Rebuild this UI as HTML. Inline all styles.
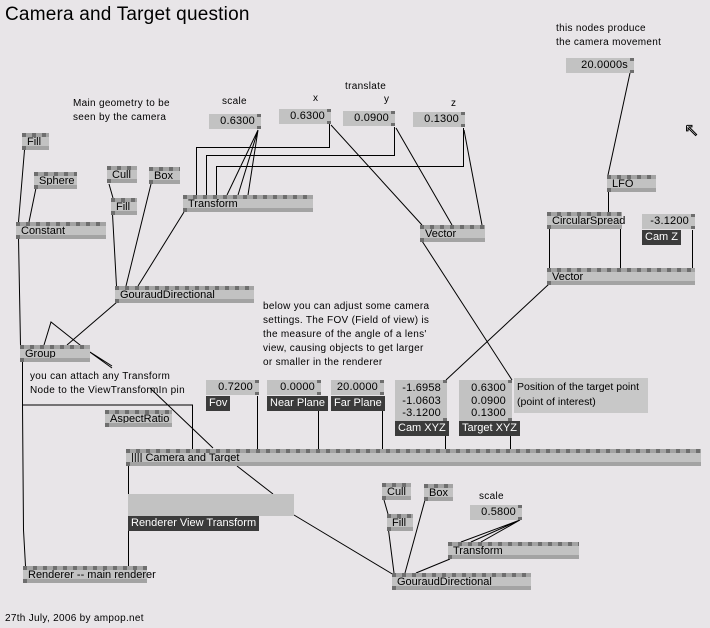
<!DOCTYPE html>
<html><head><meta charset="utf-8">
<style>
body{margin:0;width:710px;height:628px;background:#e8e5e8;position:relative;overflow:hidden;font-family:"Liberation Sans",sans-serif;font-size:11px;color:#000}
.n{position:absolute;height:17px;background:#c2c2c2;box-sizing:border-box;line-height:17px;padding-left:5px;white-space:nowrap}
.n::before{content:"";position:absolute;left:0;right:0;top:0;height:4px;background:repeating-linear-gradient(90deg,#6e6e6e 0 4px,#a3a3a3 4px 10px)}
.n::after{content:"";position:absolute;left:0;right:0;bottom:0;height:4px;background:linear-gradient(90deg,#6e6e6e 0 4px,#a3a3a3 4px)}
.n span{position:relative;top:1px}
.io{position:absolute;height:15px;background:#c2c2c2;text-align:right;padding-right:6px;box-sizing:border-box;line-height:15px;font-size:11px;letter-spacing:0.2px}
.io::after{content:"";position:absolute;right:0;top:0;width:4px;height:3px;background:#6e6e6e}
.io::before{content:"";position:absolute;right:0;bottom:0;width:4px;height:3px;background:#6e6e6e}
.lb{position:absolute;height:15px;background:#3b3b3b;color:#fff;line-height:15px;padding:0 3px;font-size:11px}
.t{position:absolute;font-size:10px;letter-spacing:0.3px;line-height:14px;white-space:nowrap}
svg{position:absolute;left:0;top:0}
</style></head><body>
<svg width="710" height="628" fill="none" stroke="#000" stroke-width="1">
<path d="M24.5 150 L18.5 222 M36 188 L29 222 M18.5 238 L20.5 345 M109 184 L113 198 M112.5 214 L116.5 286 M151 184 L126 286 M184 212 L138 286 M117 302 L67 345"/>
<path d="M44 345 L51 322 L80 345 L112 368 M90 352 L112 366 M150 388 L213 448 M22.5 360 L22.5 405 L192.5 405 L192.5 449 M22.5 405 L23.5 530 L25.5 566"/>
<path d="M329.5 124 V147.5 H196.5 V195 M394.5 127 V155.5 H206.5 V195 M463.5 128 V166.5 H216.5 V195 M258 130 L227 195 M258 130 L238 195 M258 130 L248 195"/>
<path d="M331 125 L422 225 M396 128 L452 225 M464 130 L482 225 M422 241 L512 380 M549 284 L446 380"/>
<path d="M630 73 L608 175 M608.5 191 V212 M549.5 228 V268 M620.5 228 V268 M692.5 230 V268"/>
<path d="M257.5 396 V449 M318.5 396 V449 M382.5 396 V449 M445.5 427 V449 M510.5 427 V449"/>
<path d="M128.5 466 V494 M128.5 516 V566 M237 466 L273 494 M294 515 L394 575"/>
<path d="M384 500 L388 514 M388.5 530 L394 573 M425 500 L405 573 M450 559 L416 573 M520 520 L461 542 M520 520 L471 542 M520 520 L481 542"/>
</svg>
<div style="position:absolute;left:5px;top:4px;font-size:19px;letter-spacing:0.2px">Camera and Target question</div>
<div class="t" style="left:556px;top:22px">this nodes produce<br>the camera movement</div>
<div class="io" style="left:566px;top:58px;width:68px">20.0000s</div>
<div class="t" style="left:345px;top:80px">translate</div>
<div class="t" style="left:222px;top:95px">scale</div>
<div class="t" style="left:313px;top:92px">x</div>
<div class="t" style="left:384px;top:93px">y</div>
<div class="t" style="left:451px;top:97px">z</div>
<div class="t" style="left:73px;top:97px">Main geometry to be<br>seen by the camera</div>
<div class="io" style="left:209px;top:114px;width:52px">0.6300</div>
<div class="io" style="left:279px;top:109px;width:52px">0.6300</div>
<div class="io" style="left:343px;top:111px;width:52px">0.0900</div>
<div class="io" style="left:413px;top:112px;width:52px">0.1300</div>
<div class="n" style="left:22px;top:133px;width:27px"><span>Fill</span></div>
<div class="n" style="left:34px;top:172px;width:43px"><span>Sphere</span></div>
<div class="n" style="left:107px;top:166px;width:30px"><span>Cull</span></div>
<div class="n" style="left:149px;top:167px;width:31px"><span>Box</span></div>
<div class="n" style="left:111px;top:198px;width:26px"><span>Fill</span></div>
<div class="n" style="left:183px;top:195px;width:130px"><span>Transform</span></div>
<div class="n" style="left:16px;top:222px;width:90px"><span>Constant</span></div>
<div class="n" style="left:420px;top:225px;width:65px"><span>Vector</span></div>
<div class="n" style="left:607px;top:175px;width:49px"><span>LFO</span></div>
<div class="n" style="left:547px;top:212px;width:75px"><span>CircularSpread</span></div>
<div class="io" style="left:642px;top:214px;width:53px">-3.1200</div>
<div class="lb" style="left:642px;top:230px">Cam Z</div>
<div class="n" style="left:547px;top:268px;width:148px"><span>Vector</span></div>
<div class="n" style="left:115px;top:286px;width:139px"><span>GouraudDirectional</span></div>
<div class="t" style="left:263px;top:300px">below you can adjust some camera<br>settings. The FOV (Field of view) is<br>the measure of the angle of a lens'<br>view, causing objects to get larger<br>or smaller in the renderer</div>
<div class="n" style="left:20px;top:345px;width:70px"><span>Group</span></div>
<div class="t" style="left:30px;top:370px">you can attach any Transform<br>Node to the ViewTransformIn pin</div>
<div class="io" style="left:206px;top:380px;width:53px">0.7200</div>
<div class="lb" style="left:206px;top:396px">Fov</div>
<div class="io" style="left:267px;top:380px;width:54px">0.0000</div>
<div class="lb" style="left:267px;top:396px">Near Plane</div>
<div class="io" style="left:331px;top:380px;width:53px">20.0000</div>
<div class="lb" style="left:331px;top:396px">Far Plane</div>
<div class="io" style="left:395px;top:380px;width:52px;height:41px;line-height:12.5px;padding-top:2px">-1.6958<br>-1.0603<br>-3.1200</div>
<div class="lb" style="left:395px;top:421px">Cam XYZ</div>
<div class="io" style="left:459px;top:380px;width:53px;height:41px;line-height:12.5px;padding-top:2px">0.6300<br>0.0900<br>0.1300</div>
<div class="lb" style="left:459px;top:421px">Target XYZ</div>
<div style="position:absolute;left:514px;top:378px;width:134px;height:35px;background:#c8c8c8;font-size:10.5px;line-height:15px;padding:2px 0 0 3px;box-sizing:border-box;white-space:nowrap">Position of the target point<br>(point of interest)</div>
<div class="n" style="left:105px;top:410px;width:67px"><span>AspectRatio</span></div>
<div class="n" style="left:126px;top:449px;width:575px"><span>|||| Camera and Target</span></div>
<div style="position:absolute;left:128px;top:494px;width:166px;height:22px;background:#c2c2c2"></div>
<div class="lb" style="left:128px;top:516px">Renderer View Transform</div>
<div class="n" style="left:382px;top:483px;width:29px"><span>Cull</span></div>
<div class="n" style="left:424px;top:484px;width:29px"><span>Box</span></div>
<div class="n" style="left:387px;top:514px;width:26px"><span>Fill</span></div>
<div class="t" style="left:479px;top:490px">scale</div>
<div class="io" style="left:470px;top:505px;width:52px">0.5800</div>
<div class="n" style="left:448px;top:542px;width:131px"><span>Transform</span></div>
<div class="n" style="left:392px;top:573px;width:139px"><span>GouraudDirectional</span></div>
<div class="n" style="left:23px;top:566px;width:124px"><span>Renderer -- main renderer</span></div>
<div class="t" style="left:5px;top:612px">27th July, 2006 by ampop.net</div>
<div style="position:absolute;left:684px;top:120px;font-size:18px;color:#fff;-webkit-text-stroke:1px #000">&#x2196;</div>
</body></html>
